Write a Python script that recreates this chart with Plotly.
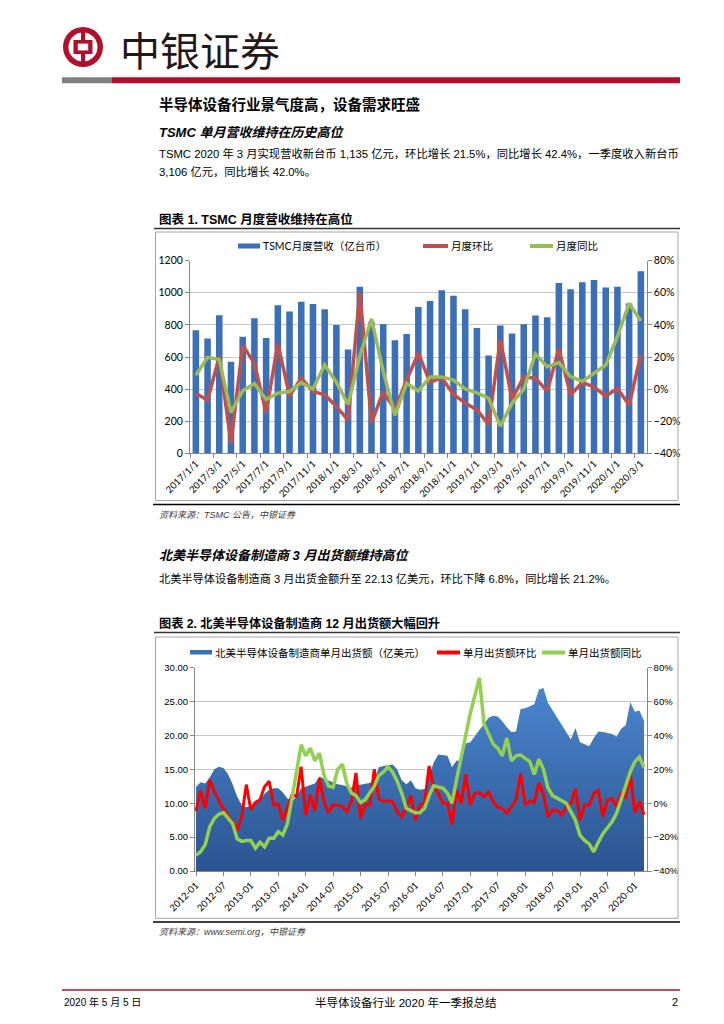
import plotly.graph_objects as go

W, H = 724, 1024


def fx(x):
    return x / W


def fy(y):
    return 1 - y / H


# ---------------- Chart 1 data: TSMC monthly revenue ----------------
tsmc_months = []
for yr in range(2017, 2021):
    for mo in range(1, 13):
        if yr == 2020 and mo > 3:
            break
        tsmc_months.append(f"{yr}/{mo}/1")

tsmc_revenue = [767, 715, 860, 570, 726, 842, 718, 922, 883, 944, 930, 897,
                800, 646, 1037, 819, 806, 704, 744, 911, 949, 1016, 982, 898,
                781, 609, 797, 747, 804, 859, 848, 1061, 1022, 1065, 1079, 1033,
                1037, 934, 1135]
tsmc_mom = [-2.7, -6.8, 20.3, -33.7, 27.4, 16.0, -14.7, 28.4, -4.2, 6.9, -1.5, -3.5,
            -10.8, -19.3, 60.5, -21.0, -1.6, -12.7, 5.7, 22.4, 4.2, 7.1, -3.3, -8.6,
            -13.0, -22.0, 30.9, -6.3, 7.6, 6.8, -1.3, 25.1, -3.7, 4.2, 1.3, -4.3,
            0.4, -9.9, 21.5]
tsmc_yoy = [8.6, 19.8, 18.5, -14.5, -1.0, 3.5, -6.5, -2.5, -1.5, 4.0, 0.0, 15.0,
            4.3, -9.6, 20.6, 43.7, 11.0, -16.4, 3.6, -1.2, 7.5, 7.6, 5.6, 0.1,
            -2.4, -5.7, -23.1, -8.8, -0.2, 22.0, 14.0, 16.5, 7.7, 4.8, 9.9, 15.0,
            32.8, 53.4, 42.4]

# ---------------- Chart 2 data: NA semiconductor equipment billings ----------------
semi_months = []
for yr in range(2012, 2021):
    for mo in range(1, 13):
        if yr == 2020 and mo > 3:
            break
        semi_months.append(f"{yr}-{mo:02d}")

semi_billings = [12.4, 13.1, 12.9, 13.8, 15.0, 15.4, 15.2, 14.3, 12.8, 11.0, 9.7, 9.4,
                 9.6, 10.0, 10.5, 11.4, 12.0, 12.2, 12.2, 11.6, 10.7, 10.3, 11.0, 12.2,
                 12.4, 12.7, 12.9, 13.9, 13.6, 13.3, 13.0, 12.8, 12.7, 12.5, 12.3, 12.6,
                 12.7, 12.8, 13.0, 13.4, 15.3, 15.5, 15.6, 15.7, 15.0, 13.4, 12.8, 13.4,
                 12.2, 12.0, 12.1, 14.0, 16.0, 17.2, 17.1, 17.0, 15.3, 16.3, 16.2, 18.8,
                 19.0, 19.9, 20.8, 21.6, 22.6, 22.9, 22.8, 22.1, 21.2, 20.5, 20.6, 23.9,
                 24.0, 24.3, 24.6, 26.8, 27.0, 24.8, 23.7, 22.8, 21.6, 20.6, 19.4, 21.1,
                 19.0, 18.7, 18.4, 19.6, 20.6, 20.5, 20.4, 20.2, 19.8, 21.0, 21.5, 24.9,
                 23.5, 23.7, 22.13]
semi_mom = [-4.7, 7.5, -3.0, 13.8, 7.0, 1.5, -3.5, -7.5, -11.0, -15.8, -8.0, 11.0,
            -4.0, 0.5, 2.0, 9.8, 13.0, -1.0, -0.5, -10.0, -2.0, 5.0, 4.0, 21.5,
            -7.0, 5.0, -4.5, 14.8, 1.0, -5.5, -1.0, -1.2, -2.0, -5.0, 1.0, 17.8,
            -9.0, -0.5, -1.0, 20.0, 2.5, 1.0, 1.5, 1.0, -5.0, -8.0, -3.0, 4.5,
            -10.0, -1.0, 0.0, 22.0, 9.6, 6.0, 0.0, 0.0, -12.5, 8.0, 0.0, 17.0,
            -1.0, 6.0, 6.0, 4.0, 6.5, 1.0, -2.5, -3.0, -6.0, -2.0, 2.0, 17.5,
            -1.0, 1.5, 0.5, 12.0, 5.5, -8.0, -4.0, -4.3, -7.0, -2.0, 0.0, 8.6,
            -10.0, -1.0, -1.0, 5.7, 7.6, -8.0, 1.8, 2.7, -2.0, 5.7, 3.7, 17.5,
            -5.6, 1.0, -6.8]
semi_yoy = [-30.6, -28.6, -24.5, -14.0, -9.0, -6.5, -5.5, -9.0, -12.0, -21.0, -22.5, -22.0,
            -22.0, -26.5, -23.0, -25.7, -20.7, -20.7, -16.8, -18.8, -12.0, 3.0, 20.0, 34.5,
            28.0, 32.5, 25.0, 29.5, 16.5, 10.0, 9.5, 20.0, 23.0, 11.5, 6.0, 4.5,
            0.5, 2.0, 6.0, 10.0, 16.5, 18.5, 21.5, 18.5, 13.0, 6.0, -3.0, -4.5,
            -5.7, -5.5, -3.0, 4.5, 10.3, 9.6, 9.0, 6.0, 0.0, 14.0, 26.0, 40.0,
            53.0, 64.0, 74.0, 47.0, 41.0, 35.0, 32.5, 28.0, 38.5, 25.0, 28.0, 28.5,
            26.5, 24.7, 17.0, 26.0, 20.0, 9.0, 4.5, 3.0, 1.5, 0.0, -5.0, -10.0,
            -19.0, -22.0, -24.0, -28.7, -23.0, -18.0, -14.5, -11.0, -6.0, 2.0, 10.0, 18.5,
            24.5, 27.3, 21.2]

idx1 = list(range(len(tsmc_months)))
idx2 = list(range(len(semi_months)))

CJK = "Noto Sans CJK SC"
BODY = "Liberation Sans, Noto Sans CJK SC"
TICKF = "Lato, Noto Sans CJK SC"

fig = go.Figure()

# Chart 1 traces
fig.add_trace(go.Bar(x=idx1, y=tsmc_revenue, marker=dict(color="#3b6fb7", line=dict(width=0)),
                     width=0.56, xaxis="x", yaxis="y", name="TSMC月度营收（亿台币）"))
fig.add_trace(go.Scatter(x=idx1, y=tsmc_mom, mode="lines", line=dict(color="#c0504d", width=3.5),
                         xaxis="x", yaxis="y2", name="月度环比"))
fig.add_trace(go.Scatter(x=idx1, y=tsmc_yoy, mode="lines", line=dict(color="#9bbb59", width=3.5),
                         xaxis="x", yaxis="y2", name="月度同比"))

# Chart 2 traces
fig.add_trace(go.Scatter(x=idx2, y=semi_billings, mode="lines", fill="tozeroy",
                         line=dict(width=0, color="#3a70b8"),
                         fillgradient=dict(type="vertical", start=0, stop=27,
                                           colorscale=[[0, "#2b5490"], [1, "#4a86cf"]]),
                         xaxis="x2", yaxis="y3", name="北美半导体设备制造商单月出货额（亿美元）"))
fig.add_trace(go.Scatter(x=idx2, y=semi_mom, mode="lines", line=dict(color="#ff0000", width=3),
                         xaxis="x2", yaxis="y4", name="单月出货额环比"))
fig.add_trace(go.Scatter(x=idx2, y=semi_yoy, mode="lines", line=dict(color="#92d050", width=3.5),
                         xaxis="x2", yaxis="y4", name="单月出货额同比"))

AX = "#868686"
GRID = "#c8c8c8"

fig.update_layout(
    width=W, height=H, autosize=False,
    margin=dict(l=0, r=0, t=0, b=0, pad=0, autoexpand=False),
    paper_bgcolor="white", plot_bgcolor="rgba(0,0,0,0)",
    showlegend=False,
    xaxis=dict(domain=[fx(190), fx(646.7)], anchor="y", range=[-0.5, 38.5], automargin=False,
               tickmode="array", tickvals=idx1[::2], ticktext=tsmc_months[::2],
               tickangle=-45, ticks="", showgrid=False, zeroline=False,
               showline=True, linecolor=AX, linewidth=1,
               tickfont=dict(family=TICKF, size=9.5, color="#000"),
               minor=dict(tickvals=[i - 0.5 for i in range(0, 40, 2)], ticks="outside",
                          ticklen=4, tickcolor=AX, showgrid=False)),
    yaxis=dict(domain=[fy(453.3), fy(260.7)], anchor="x", range=[0, 1200], dtick=200,
               automargin=False, showgrid=True, gridcolor=GRID, zeroline=False,
               showline=True, linecolor=AX, ticks="outside", ticklen=4, tickcolor=AX,
               tickfont=dict(family=TICKF, size=10.5, color="#000")),
    yaxis2=dict(overlaying="y", side="right", anchor="x", range=[-40, 80], dtick=20,
                automargin=False, ticksuffix="%", showgrid=False, zeroline=False,
                showline=True, linecolor=AX, ticks="outside", ticklen=4, tickcolor=AX,
                tickfont=dict(family=TICKF, size=10.5, color="#000")),
    xaxis2=dict(domain=[fx(195), fx(646.7)], anchor="y3", range=[-0.22, 98.59], automargin=False,
                tickmode="array", tickvals=idx2[::6], ticktext=semi_months[::6],
                tickangle=-45, ticks="outside", ticklen=4, tickcolor=AX,
                showgrid=False, zeroline=False, showline=True, linecolor=AX,
                tickfont=dict(family=TICKF, size=9.5, color="#000")),
    yaxis3=dict(domain=[fy(871), fy(667.7)], anchor="x2", range=[0, 30], dtick=5,
                automargin=False, tickformat=".2f", showgrid=True, gridcolor=GRID, zeroline=False,
                showline=True, linecolor=AX, ticks="outside", ticklen=4, tickcolor=AX,
                tickfont=dict(family="Liberation Sans", size=9.5, color="#000")),
    yaxis4=dict(overlaying="y3", side="right", anchor="x2", range=[-40, 80], dtick=20,
                automargin=False, ticksuffix="%", showgrid=False, zeroline=False,
                showline=True, linecolor=AX, ticks="outside", ticklen=4, tickcolor=AX,
                tickfont=dict(family="Liberation Sans", size=9.5, color="#000")),
)

shapes = []
ann = []


def rect(x0, y0, x1, y1, fill=None, line=None, lw=1):
    shapes.append(dict(type="rect", xref="paper", yref="paper",
                       x0=fx(x0), x1=fx(x1), y0=fy(y0), y1=fy(y1),
                       fillcolor=fill if fill else "rgba(0,0,0,0)",
                       line=dict(color=line if line else "rgba(0,0,0,0)", width=lw if line else 0),
                       layer="above"))


def circ(cx, cy, r, fill):
    shapes.append(dict(type="circle", xref="paper", yref="paper",
                       x0=fx(cx - r), x1=fx(cx + r), y0=fy(cy + r), y1=fy(cy - r),
                       fillcolor=fill, line=dict(width=0), layer="above"))


def hline(x0, x1, y, color, w):
    shapes.append(dict(type="line", xref="paper", yref="paper",
                       x0=fx(x0), x1=fx(x1), y0=fy(y), y1=fy(y),
                       line=dict(color=color, width=w), layer="above"))


def txt(x, y, s, size, bold=False, italic=False, color="#000", anchor="left", family=BODY):
    if bold:
        s = f"<b>{s}</b>"
    if italic:
        s = f"<i>{s}</i>"
    ann.append(dict(x=fx(x), y=fy(y), xref="paper", yref="paper", text=s, showarrow=False,
                    xanchor=anchor, yanchor="middle", font=dict(size=size, color=color, family=family)))


RED = "#b0102b"

# ---- header / logo ----
circ(83, 47, 20, RED)
circ(83, 47, 14.5, "white")
rect(81, 28, 85.2, 66, fill=RED)
rect(73.5, 40, 92.5, 54, fill=RED)
rect(77.8, 43.6, 88.2, 50.4, fill="white")
txt(118, 49, "中银证券", 40, color="#231815", family=CJK)
rect(62, 77.3, 112, 83.3, fill="#808080")
rect(112, 77.3, 680, 83.3, fill=RED)

# ---- body text ----
txt(157, 104, "半导体设备行业景气度高，设备需求旺盛", 14.5, bold=True)
txt(157, 132, "TSMC 单月营收维持在历史高位", 13, bold=True, italic=True)
txt(157, 153, "TSMC 2020 年 3 月实现营收新台币 1,135 亿元，环比增长 21.5%，同比增长 42.4%，一季度收入新台币", 11.3)
txt(157, 171, "3,106 亿元，同比增长 42.0%。", 11.3)

# ---- chart 1 decorations ----
txt(157, 219, "图表 1. TSMC 月度营收维持在高位", 12.5, bold=True)
hline(154, 680, 228.5, "#333333", 1.5)
rect(155.5, 232, 678, 500.5, line="#a6a6a6", lw=1)
hline(153, 680, 504.5, "#000000", 1.5)
txt(157, 515, "资料来源：TSMC 公告，中银证券", 9, italic=True, color="#404040")

rect(238, 243.5, 260, 248.5, fill="#3b6fb7")
txt(261, 246, "TSMC月度营收（亿台币）", 10.5, family=TICKF)
hline(423, 448, 246, "#c0504d", 4)
txt(449, 246, "月度环比", 10.5, family=TICKF)
hline(530, 553, 246, "#9bbb59", 4)
txt(554, 246, "月度同比", 10.5, family=TICKF)

# ---- chart 2 text ----
txt(157, 555, "北美半导体设备制造商 3 月出货额维持高位", 13, bold=True, italic=True)
txt(157, 578, "北美半导体设备制造商 3 月出货金额升至 22.13 亿美元，环比下降 6.8%，同比增长 21.2%。", 11.2)
txt(157, 623, "图表 2. 北美半导体设备制造商 12 月出货额大幅回升", 12.2, bold=True)
hline(154, 680, 632.5, "#333333", 1.5)
rect(155.5, 637, 678, 918.3, line="#a6a6a6", lw=1)
hline(153, 680, 922, "#000000", 1.5)
txt(157, 932, "资料来源：www.semi.org，中银证券", 9, italic=True, color="#404040")

rect(190, 650, 212, 654.5, fill="#3a70b8")
txt(213, 652.5, "北美半导体设备制造商单月出货额（亿美元）", 10.5, family=CJK)
hline(437, 460, 652.5, "#ff0000", 4)
txt(461, 652.5, "单月出货额环比", 10.5, family=CJK)
hline(542, 565, 652.5, "#92d050", 4)
txt(566, 652.5, "单月出货额同比", 10.5, family=CJK)

# ---- footer ----
hline(62, 680, 990, RED, 1.5)
txt(62, 1002, "2020 年 5 月 5 日", 10)
txt(405, 1002, "半导体设备行业 2020 年一季报总结", 11.5, anchor="center")
txt(680, 1002, "2", 11, anchor="right")

fig.update_layout(shapes=shapes, annotations=ann)

fig.write_html("out.html", config={"displayModeBar": False},
               post_script="document.body.style.margin='0';")
